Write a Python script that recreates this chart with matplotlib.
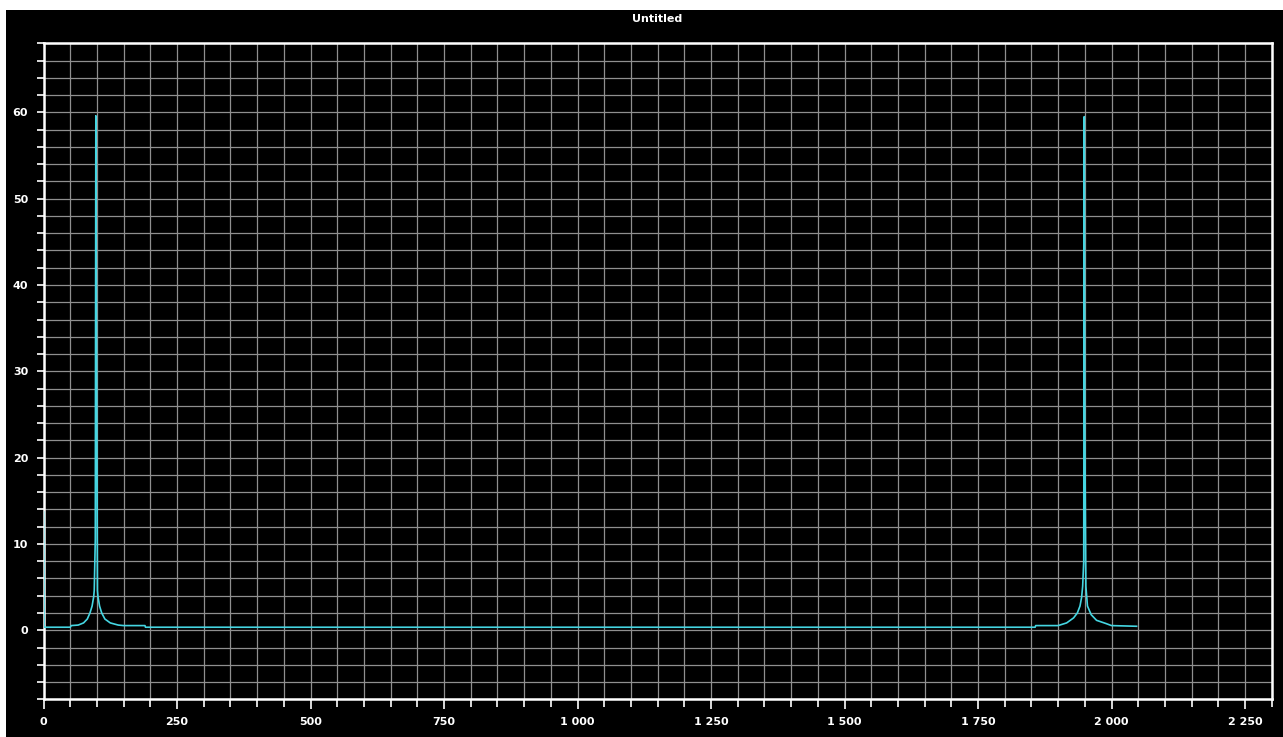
import numpy as np
import matplotlib.pyplot as plt
from matplotlib.patches import Rectangle
from matplotlib.ticker import MultipleLocator, FixedLocator, FuncFormatter

# Espectro de magnitude (pontos lidos ao longo da curva)
bins = [0, 1, 50, 52, 65, 75, 82, 87, 91, 94, 95, 97, 98, 99, 101, 102, 105,
        109, 115, 125, 140, 150, 190, 191, 1857, 1858, 1900, 1916, 1929, 1936,
        1941, 1944, 1946, 1948, 1949, 1950, 1952, 1955, 1962, 1972, 1990, 2000,
        2047]
magnitude = [13.7, 0.35, 0.35, 0.54, 0.6, 0.85, 1.3, 2.0, 2.8, 3.9, 4.6, 10.5,
             59.6, 39.7, 4.6, 3.9, 2.8, 2.0, 1.3, 0.85, 0.6, 0.54, 0.54, 0.35,
             0.35, 0.54, 0.54, 0.85, 1.43, 2.0, 2.8, 3.8, 5.1, 8.0, 59.5, 23.4,
             5.1, 2.8, 1.8, 1.15, 0.77, 0.54, 0.46]

x_major = [0, 250, 500, 750, 1000, 1250, 1500, 1750, 2000, 2250]
y_major = [0, 10, 20, 30, 40, 50, 60]

W, H = 1283, 737
fig = plt.figure(figsize=(W / 100, H / 100), dpi=100)
fig.patch.set_facecolor('white')
# fundo preto com uma faixa branca no topo e à esquerda
fig.add_artist(Rectangle((6 / W, 0), 1 - 6 / W, 1 - 10 / H,
                         transform=fig.transFigure, facecolor='black',
                         edgecolor='none', zorder=-10))

ax = fig.add_axes([43.5 / W, 1 - 699.3 / H, (1271.7 - 43.5) / W, (699.3 - 43.3) / H])
ax.set_facecolor('black')

ax.plot(bins, magnitude, color='#45d6e2', lw=1.2, zorder=3)

ax.set_xlim(0, 2300)
ax.set_ylim(-8, 68)

ax.xaxis.set_major_locator(FixedLocator(x_major))
ax.xaxis.set_minor_locator(MultipleLocator(50))
ax.yaxis.set_major_locator(FixedLocator(y_major))
ax.yaxis.set_minor_locator(MultipleLocator(2))
ax.xaxis.set_major_formatter(FuncFormatter(lambda v, p: f'{int(v):,}'.replace(',', ' ')))
ax.yaxis.set_major_formatter(FuncFormatter(lambda v, p: f'{int(v)}'))

ax.grid(True, which='both', color='#8f8f8f', lw=0.9)
ax.set_axisbelow(True)

for s in ax.spines.values():
    s.set_color('white')
    s.set_linewidth(1.8)

ax.tick_params(axis='x', which='major', colors='white', length=7, width=1.2,
               labelsize=8, pad=6, top=False)
ax.tick_params(axis='x', which='minor', colors='white', length=6, width=1.2, top=False)
ax.tick_params(axis='y', which='major', colors='white', length=5, width=1.2,
               labelsize=8, pad=6, right=False)
ax.tick_params(axis='y', which='minor', colors='white', length=5, width=1.2, right=False)
for lab in ax.get_xticklabels() + ax.get_yticklabels():
    lab.set_fontweight('bold')

ax.set_title('Untitled', color='white', fontsize=8, fontweight='bold', pad=15)

fig.savefig('out.png', dpi=100, facecolor=fig.get_facecolor())
